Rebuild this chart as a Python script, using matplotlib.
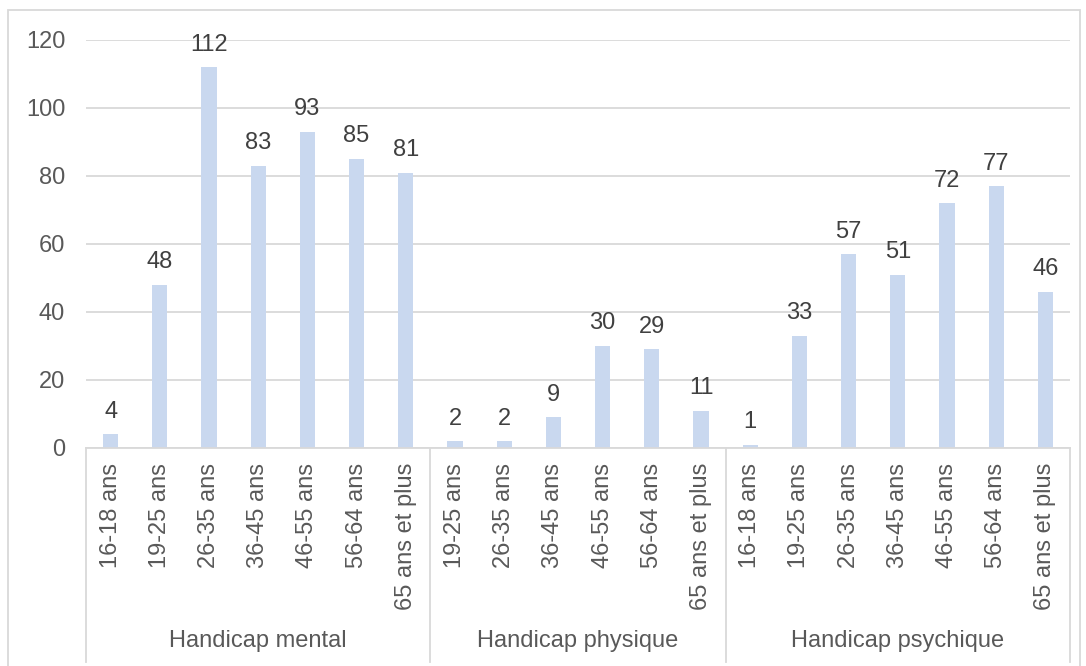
import matplotlib.pyplot as plt
from matplotlib.patches import Rectangle
from matplotlib.transforms import blended_transform_factory

plt.rcParams['font.family'] = ['Liberation Sans', 'DejaVu Sans']

groups = ['Handicap mental', 'Handicap physique', 'Handicap psychique']
ages_mental = ['16-18 ans', '19-25 ans', '26-35 ans', '36-45 ans', '46-55 ans', '56-64 ans', '65 ans et plus']
ages_physique = ['19-25 ans', '26-35 ans', '36-45 ans', '46-55 ans', '56-64 ans', '65 ans et plus']
ages_psychique = ['16-18 ans', '19-25 ans', '26-35 ans', '36-45 ans', '46-55 ans', '56-64 ans', '65 ans et plus']
val_mental = [4, 48, 112, 83, 93, 85, 81]
val_physique = [2, 2, 9, 30, 29, 11]
val_psychique = [1, 33, 57, 51, 72, 77, 46]

labels = ages_mental + ages_physique + ages_psychique
values = val_mental + val_physique + val_psychique
sizes = [len(ages_mental), len(ages_physique), len(ages_psychique)]
x = list(range(len(values)))

fig = plt.figure(figsize=(10.86, 6.66), dpi=100)
W, H = 1086, 666
ax = fig.add_axes([86 / W, (H - 448) / H, (1070 - 86) / W, (448 - 40) / H])

grid_c = '#D9D9D9'
ax.bar(x, values, width=0.31, color='#C9D8EF', zorder=2)
ax.set_xlim(-0.5, len(values) - 0.5)
ax.set_ylim(0, 120)
ax.set_yticks(range(0, 121, 20))
ax.yaxis.grid(True, color=grid_c, linewidth=1.3, zorder=0)
ax.tick_params(axis='y', length=0, labelsize=17, labelcolor='#595959', pad=15)
ax.set_xticks([])
for s in ['top', 'right', 'left']:
    ax.spines[s].set_visible(False)
ax.spines['bottom'].set_color(grid_c)
ax.spines['bottom'].set_linewidth(1.3)

for xi, v in zip(x, values):
    ax.annotate(str(v), (xi, v), xytext=(0, 12), textcoords='offset points',
                ha='center', va='baseline', fontsize=17, color='#404040')

tr = blended_transform_factory(ax.transData, ax.transAxes)
h_ax = 448 - 40
for xi, lab in zip(x, labels):
    ax.text(xi, -15 / h_ax, lab, transform=tr, rotation=90, ha='center', va='top',
            fontsize=17, color='#595959')

bounds = [-0.5]
for n in sizes:
    bounds.append(bounds[-1] + n)
for b in bounds:
    ax.plot([b, b], [0, -(662 - 448) / h_ax], transform=tr, color=grid_c,
            linewidth=1.3, clip_on=False)
for i, g in enumerate(groups):
    mid = (bounds[i] + bounds[i + 1]) / 2
    ax.text(mid, -(641 - 448) / h_ax, g, transform=tr, ha='center', va='center',
            fontsize=17, color='#595959')

fig.patches.append(Rectangle((8 / W, -0.01), (1080 - 8) / W, 1.01 - 10 / H,
                             transform=fig.transFigure, fill=False,
                             edgecolor=grid_c, linewidth=1.3))

plt.savefig('out.png', dpi=100)
